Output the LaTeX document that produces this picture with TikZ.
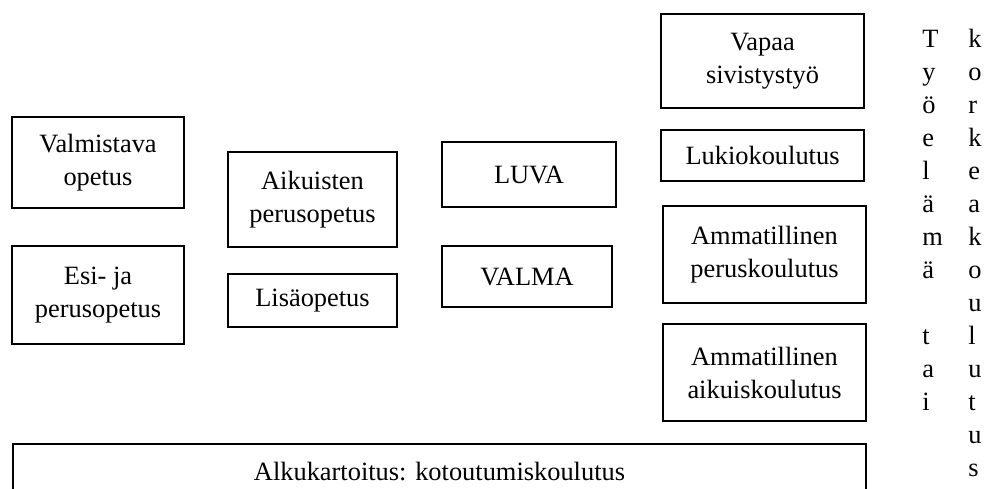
\documentclass[tikz,border=0pt]{standalone}
\usepackage{fontspec}
\setmainfont{Liberation Serif}
\usepackage{tikz}

\tikzset{
  box/.style={draw,line width=0.9pt,rectangle,align=center,inner sep=0pt,
    font=\fontsize{13.2}{16.5}\selectfont},
  letter/.style={anchor=base west,inner sep=0pt,font=\fontsize{13.2}{16.5}\selectfont}
}

\begin{document}
\begin{tikzpicture}[x=0.5pt,y=-0.5pt]
    \useasboundingbox (0,0) rectangle (986,488);
    % left column
    \node[box,minimum width=86pt,minimum height=45.5pt] (valm) at (98,162.5) {Valmistava\\opetus};
    \node[box,minimum width=86pt,minimum height=49pt] (esi) at (98,295) {Esi- ja\\perusopetus};
    % second column
    \node[box,minimum width=84.5pt,minimum height=47.5pt] (aik) at (312.5,199.5) {Aikuisten\\perusopetus};
    \node[box,minimum width=84.5pt,minimum height=26.5pt] (lisa) at (312.5,300.5) {Lisäopetus};
    % third column
    \node[box,minimum width=87pt,minimum height=32.5pt] (luva) at (529,174.5) {LUVA};
    \node[box,minimum width=85pt,minimum height=30.5pt] (valma) at (527,276.5) {VALMA};
    % fourth column
    \node[box,minimum width=101.5pt,minimum height=47pt] (vapaa) at (762.5,61) {Vapaa\\sivistystyö};
    \node[box,minimum width=101.5pt,minimum height=25.5pt] (lukio) at (762.5,155.5) {Lukiokoulutus};
    \node[box,minimum width=101.5pt,minimum height=48.5pt] (ammper) at (764.5,254.5) {Ammatillinen\\peruskoulutus};
    \node[box,minimum width=101.5pt,minimum height=48.5pt] (ammaik) at (764.5,372.5) {Ammatillinen\\aikuiskoulutus};
    % bottom bar
    \node[box,minimum width=426.5pt,minimum height=28pt] (alku) at (439.5,472) {Alkukartoitus: kotoutumiskoulutus};
    % vertical texts
    \foreach \ch/\k in {T/0,y/1,ö/2,e/3,l/4,ä/5,m/6,ä/7,t/9,a/10,i/11}
        \node[letter] (tyo\k) at (922,{47+33*\k}) {\ch};
    \foreach \ch [count=\k from 0] in {k,o,r,k,e,a,k,o,u,l,u,t,u,s}
        \node[letter] (kork\k) at (968,{47+33*\k}) {\ch};
\end{tikzpicture}
\end{document}
